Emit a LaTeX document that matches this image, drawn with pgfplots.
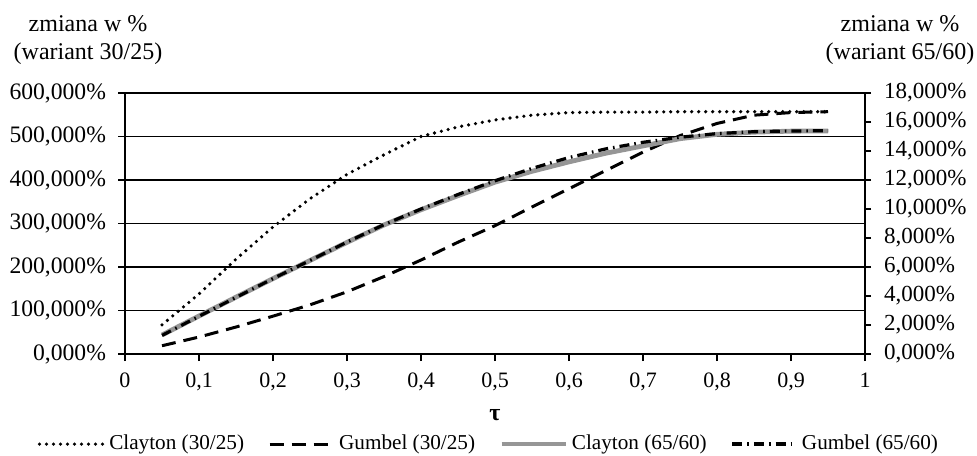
\documentclass[border=0pt]{standalone}
\usepackage{pgfplots}
\pgfplotsset{compat=1.18}
\usepackage{fontspec}
\setmainfont{Liberation Serif}

\pgfplotstableread{
tau  c30   g30  c65   g65
0.05 67    19   1.31  1.28
0.10 138   39   2.62  2.60
0.15 218   62   3.92  3.90
0.20 292   87   5.20  5.20
0.25 357   113  6.45  6.45
0.30 413   143  7.70  7.72
0.35 458   178  8.90  8.92
0.40 500   216  9.95  10.00
0.45 522   257  10.92 11.00
0.50 538   295  11.85 11.95
0.55 549   338  12.60 12.80
0.60 555   380  13.25 13.55
0.65 556   422  13.85 14.15
0.70 556   464  14.35 14.60
0.75 557   502  14.85 14.95
0.80 557   530  15.15 15.20
0.85 557   549  15.30 15.33
0.90 557   555  15.37 15.38
0.95 557   557  15.38 15.40
}\datatable

\definecolor{greyline}{RGB}{150,150,150}

\tikzset{
  dotsty/.style={black, line width=1.8pt, line cap=round, dash pattern=on 0pt off 3.5pt},
  dashsty/.style={black, line width=1.5pt, dash pattern=on 7pt off 4pt},
  greysty/.style={greyline, line width=2.4pt},
  dashdotsty/.style={black, line width=1.6pt, dash pattern=on 5pt off 2.5pt on 0.8pt off 2.5pt},
}

\begin{document}
\begin{tikzpicture}
\path[use as bounding box] (-62.5pt,-50.5pt) rectangle (426pt,177pt);

\node[anchor=base, font=\fontsize{12}{14}\selectfont] at (-18.5pt,161pt) {zmiana w \%};
\node[anchor=base, font=\fontsize{12}{14}\selectfont] at (-18.5pt,147pt) {(wariant 30/25)};
\node[anchor=base, font=\fontsize{12}{14}\selectfont] at (387.5pt,161pt) {zmiana w \%};
\node[anchor=base, font=\fontsize{12}{14}\selectfont] at (387.5pt,147pt) {(wariant 65/60)};

\begin{axis}[
  at={(0,0)}, anchor=south west, scale only axis,
  width=370pt, height=130.5pt,
  xmin=0, xmax=1, ymin=0, ymax=600,
  axis x line*=bottom, axis y line*=left,
  axis line style={-, line width=0.9pt, black},
  xtick={0,0.1,0.2,0.3,0.4,0.5,0.6,0.7,0.8,0.9,1},
  xticklabels={0,{0,1},{0,2},{0,3},{0,4},{0,5},{0,6},{0,7},{0,8},{0,9},1},
  ytick={0,100,200,300,400,500,600},
  yticklabels={{0,000\%},{100,000\%},{200,000\%},{300,000\%},{400,000\%},{500,000\%},{600,000\%}},
  tick align=outside, major tick length=3.5pt,
  tick style={black, line width=0.8pt},
  ymajorgrids, grid style={black, line width=0.8pt},
  xticklabel style={font=\fontsize{11}{13}\selectfont, yshift=-2.5pt},
  yticklabel style={font=\fontsize{11.8}{13}\selectfont, xshift=-2.5pt},
  xlabel={\textbf{τ}},
  xlabel style={at={(axis description cs:0.5,-0.253)}, anchor=base, font=\fontsize{12}{14}\selectfont},
  clip=false,
]
\addplot[dotsty] table[x=tau, y=c30] {\datatable};
\addplot[dashsty] table[x=tau, y=g30] {\datatable};
\end{axis}

\begin{axis}[
  at={(0,0)}, anchor=south west, scale only axis,
  width=370pt, height=130.5pt,
  xmin=0, xmax=1, ymin=0, ymax=18,
  axis y line*=right, axis x line=none,
  axis line style={-, line width=0.9pt, black},
  ytick={0,2,4,6,8,10,12,14,16,18},
  yticklabels={{0,000\%},{2,000\%},{4,000\%},{6,000\%},{8,000\%},{10,000\%},{12,000\%},{14,000\%},{16,000\%},{18,000\%}},
  tick align=outside, major tick length=3pt,
  tick style={black, line width=0.8pt},
  yticklabel style={font=\fontsize{11.5}{13}\selectfont, xshift=3pt},
  clip=false,
  legend columns=4,
  legend style={at={(axis description cs:0.493,-0.279)}, anchor=north, draw=none, fill=none,
    font=\fontsize{10.6}{12}\selectfont,
    /tikz/every even column/.append style={column sep=10pt}},
  legend image code/.code={\draw[#1] (0pt,0pt) -- (32pt,0pt);},
]
\addlegendimage{dotsty}
\addlegendentry{Clayton (30/25)}
\addlegendimage{dashsty}
\addlegendentry{Gumbel (30/25)}
\addplot[greysty] table[x=tau, y=c65] {\datatable};
\addlegendentry{Clayton (65/60)}
\addplot[dashdotsty] table[x=tau, y=g65] {\datatable};
\addlegendentry{Gumbel (65/60)}
\end{axis}
\end{tikzpicture}
\end{document}
